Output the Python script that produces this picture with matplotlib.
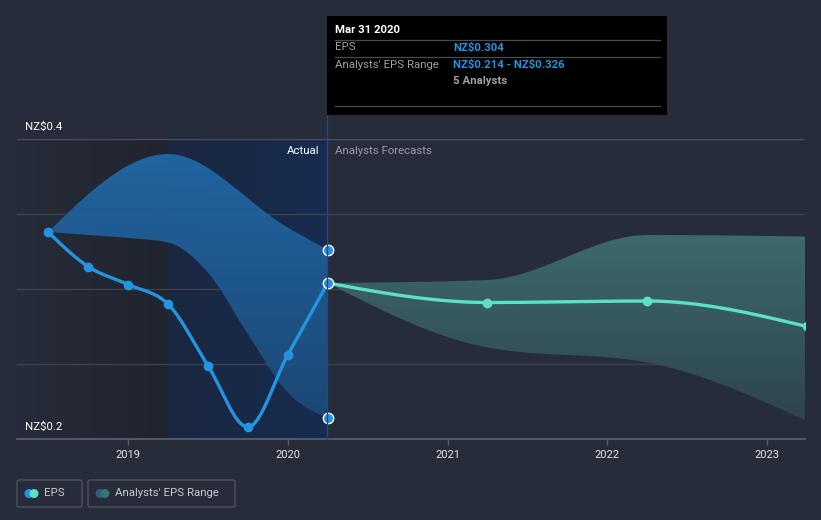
import numpy as np
import matplotlib
matplotlib.use("Agg")
import matplotlib.pyplot as plt
from matplotlib.colors import LinearSegmentedColormap
from matplotlib.patches import FancyBboxPatch, Rectangle, Circle

plt.rcParams['font.family'] = ['Roboto', 'DejaVu Sans']

# ---- data ----
eps_x = [2018.5, 2018.75, 2019.0, 2019.25, 2019.5, 2019.75, 2020.0, 2020.25]
eps_y = [0.338, 0.315, 0.303, 0.290, 0.249, 0.208, 0.256, 0.304]

hist_hi_x = [2018.5, 2019.25, 2020.0, 2020.25]
hist_band_hi = [0.338, 0.390, 0.341, 0.326]
hist_lo_x = [2018.5, 2018.75, 2019.0, 2019.25, 2019.5, 2019.75, 2020.0, 2020.25]
hist_band_lo = [0.338, 0.336, 0.334, 0.331, 0.311, 0.270, 0.231, 0.214]

fc_x = [2020.25, 2021.25, 2022.25, 2023.25]
fc_y = [0.304, 0.291, 0.292, 0.275]
fc_hi = [0.304, 0.306, 0.336, 0.335]
fc_lo = [0.304, 0.261, 0.251, 0.212]

years = [2019, 2020, 2021, 2022, 2023]
y_labels = {0.4: r"NZ\$0.4", 0.2: r"NZ\$0.2"}

BG = "#262c39"
EPS_BLUE = "#2394df"
FC_GREEN = "#5ce1c8"


def monotone(x, y, n=200):
    # d3 curveMonotoneX style smoothing for drawing
    x = np.asarray(x, float)
    y = np.asarray(y, float)
    h = np.diff(x)
    s = np.diff(y) / h
    m = np.zeros_like(y)
    for i in range(1, len(x) - 1):
        p = (s[i - 1] * h[i] + s[i] * h[i - 1]) / (h[i - 1] + h[i])
        m[i] = (np.sign(s[i - 1]) + np.sign(s[i])) * min(abs(s[i - 1]), abs(s[i]), 0.5 * abs(p))
    if len(x) > 2:
        m[0] = (3 * s[0] - m[1]) / 2
        m[-1] = (3 * s[-1] - m[-2]) / 2
    else:
        m[:] = s[0]
    xs, ys = [], []
    for i in range(len(h)):
        t = np.linspace(0, 1, n)
        h00 = 2 * t**3 - 3 * t**2 + 1
        h10 = t**3 - 2 * t**2 + t
        h01 = -2 * t**3 + 3 * t**2
        h11 = t**3 - t**2
        xs.append(x[i] + t * h[i])
        ys.append(h00 * y[i] + h10 * h[i] * m[i] + h01 * y[i + 1] + h11 * h[i] * m[i + 1])
    return np.concatenate(xs), np.concatenate(ys)


W, H = 821, 520
fig = plt.figure(figsize=(W / 100, H / 100), dpi=100, facecolor=BG)

# plot area in pixels: x 17..805, y 139..439
ax = fig.add_axes([17 / W, (H - 439) / H, (805 - 17) / W, 300 / H])
ax.set_facecolor(BG)
x0 = 2019 - (128 - 17) / 159.75
x1 = 2023 + (805 - 767) / 159.75
ax.set_xlim(x0, x1)
ax.set_ylim(0.2, 0.4)

# shaded background regions
grey_cm = LinearSegmentedColormap.from_list("g", [BG, "#20242f"])
ax.imshow(np.linspace(0, 1, 100).reshape(1, -1), cmap=grey_cm, extent=[x0, 2019.25, 0.2, 0.4],
          aspect="auto", zorder=0)
blue_cm = LinearSegmentedColormap.from_list("b", ["#1b2740", "#162c50"])
ax.imshow(np.linspace(0, 1, 100).reshape(1, -1), cmap=blue_cm, extent=[2019.25, 2020.25, 0.2, 0.4],
          aspect="auto", zorder=0)

# grid
for gy in [0.25, 0.3, 0.35]:
    ax.axhline(gy, color="#3c4250", lw=1, zorder=1)
ax.axhline(0.4, color="#4c515d", lw=1, zorder=1)

# historical analysts band (gradient)
hx, hlo = monotone(hist_lo_x, hist_band_lo)
ux, uhi = monotone(hist_hi_x, hist_band_hi)
hhi = np.interp(hx, ux, uhi)
poly = ax.fill_between(hx, hlo, hhi, facecolor="none", edgecolor="none")
band_cm = LinearSegmentedColormap.from_list("hb", ["#1d4774", "#2168a6"])
im = ax.imshow(np.linspace(0, 1, 100).reshape(-1, 1), cmap=band_cm, origin="lower",
               extent=[2018.5, 2020.25, 0.2, 0.39], aspect="auto", zorder=2, alpha=0.95)
im.set_clip_path(poly.get_paths()[0], ax.transData)

# forecast band (gradient)
fx, fhi = monotone(fc_x, fc_hi)
_, flo = monotone(fc_x, fc_lo)
poly2 = ax.fill_between(fx, flo, fhi, facecolor="none", edgecolor="none")
fc_cm = LinearSegmentedColormap.from_list("fb", ["#2e434d", "#3d6a6c"])
im2 = ax.imshow(np.linspace(0, 1, 100).reshape(-1, 1), cmap=fc_cm, origin="lower",
                extent=[2020.25, 2023.25, 0.21, 0.336], aspect="auto", zorder=2)
im2.set_clip_path(poly2.get_paths()[0], ax.transData)

# lines
ex, ey = monotone(eps_x, eps_y)
ax.plot(ex, ey, color=EPS_BLUE, lw=2.4, zorder=4, solid_capstyle="round")
ax.plot(eps_x[:-1], eps_y[:-1], "o", color=EPS_BLUE, ms=6, zorder=5)
gx, gy_ = monotone(fc_x, fc_y)
ax.plot(gx, gy_, color=FC_GREEN, lw=2.4, zorder=4)
ax.plot(fc_x[1:], fc_y[1:], "o", color=FC_GREEN, ms=6, zorder=5)

# hovered points
ax.plot([eps_x[-1]], [eps_y[-1]], "o", color=EPS_BLUE, ms=7.5, mec="white", mew=1, zorder=6, clip_on=False)
ax.plot([hist_hi_x[-1], hist_lo_x[-1]], [hist_band_hi[-1], hist_band_lo[-1]], "o", color=EPS_BLUE,
        ms=7.5, mec="white", mew=1, lw=0, zorder=6, clip_on=False)

# axes styling
for side in ["top", "right", "left"]:
    ax.spines[side].set_visible(False)
ax.spines["bottom"].set_color("#5d626e")
ax.spines["bottom"].set_linewidth(1.2)
ax.set_yticks([])
ax.set_xticks(years)
ax.set_xticklabels([str(y) for y in years])
ax.tick_params(axis="x", colors="#5d626e", length=4, width=1, labelcolor="#e6e6e6",
               labelsize=8, pad=4)

# overlay in pixel coordinates
ov = fig.add_axes([0, 0, 1, 1], facecolor="none")
ov.set_xlim(0, W)
ov.set_ylim(H, 0)
ov.axis("off")

for val, lab in y_labels.items():
    py = 439 - (val - 0.2) * 1500
    ov.text(25, py - 12, lab, color="white", fontsize=8.2, va="center", ha="left")

ov.text(319, 151, "Actual", color="white", fontsize=8.2, va="center", ha="right")
ov.text(335, 151, "Analysts Forecasts", color="#9a9ea6", fontsize=8.2, va="center", ha="left")

# vertical marker line up to tooltip
ov.plot([327, 327], [115, 439], color="#2b4677", lw=1, zorder=3)

# tooltip
ov.add_patch(Rectangle((327, 16), 340, 99, facecolor="black", edgecolor="none", zorder=5))
ov.text(335, 30, "Mar 31 2020", color="white", fontsize=8.2, fontweight="bold", va="center", zorder=6)
for ly in [40, 57, 106]:
    ov.plot([335, 660], [ly, ly], color="#4a4a4a", lw=0.9, zorder=6)
ov.text(335, 47.5, "EPS", color="#a0a0a0", fontsize=8.2, va="center", zorder=6)
ov.text(453, 47.5, r"NZ\$0.304", color=EPS_BLUE, fontsize=8.2, fontweight="bold", va="center", zorder=6)
ov.text(335, 65, "Analysts' EPS Range", color="#a0a0a0", fontsize=8.2, va="center", zorder=6)
ov.text(453, 65, r"NZ\$0.214 - NZ\$0.326", color=EPS_BLUE, fontsize=8.2, fontweight="bold",
        va="center", zorder=6)
ov.text(453, 81, "5 Analysts", color="#a0a0a0", fontsize=8.2, fontweight="bold", va="center", zorder=6)

# legend
legend_items = [("EPS", EPS_BLUE, FC_GREEN, 17, 65), ("Analysts' EPS Range", "#2a5f8f", "#3d7272", 88, 147)]
for label, c1, c2, lx, lw_ in legend_items:
    ov.add_patch(FancyBboxPatch((lx, 480), lw_, 27, boxstyle="round,pad=0,rounding_size=2",
                                facecolor="none", edgecolor="#4d525e", lw=1))
    ov.add_patch(Circle((lx + 12, 493.5), 4.5, facecolor=c1, edgecolor="none"))
    ov.add_patch(Circle((lx + 17, 493.5), 4.5, facecolor=c2, edgecolor="none"))
    ov.text(lx + 27, 493.5, label, color="#c8cad0", fontsize=8.2, va="center", ha="left")

fig.savefig("out.png", dpi=100, facecolor=BG)
